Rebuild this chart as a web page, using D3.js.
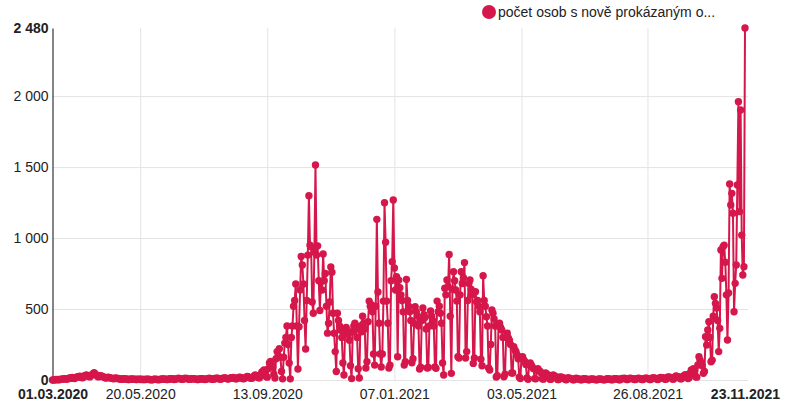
<!DOCTYPE html>
<html>
<head>
<meta charset="utf-8">
<script src="https://cdn.jsdelivr.net/npm/d3@7"></script>
<style>
  body { margin: 0; background: #fff; }
  text { font-family: "Liberation Sans", Arial, sans-serif; }
</style>
</head>
<body>
<div id="chart"></div>
<script>
// first day of the series, one value per day after it
const startDate = '2020-03-01';
const seriesName = 'počet osob s nově prokázaným o...';

// daily counts, one row per week (Sun..Sat)
const dailyCases = [
  0, 0, 1, 3, 2, 4, 2,
  3, 5, 6, 8, 10, 7, 6,
  8, 12, 15, 14, 18, 12, 10,
  15, 20, 24, 22, 26, 20, 16,
  18, 28, 32, 35, 30, 26, 22,
  30, 38, 45, 52, 40, 35, 26,
  22, 28, 30, 26, 24, 20, 16,
  14, 18, 20, 16, 15, 12, 10,
  9, 12, 14, 10, 11, 8, 6,
  5, 8, 9, 7, 8, 6, 4,
  4, 6, 7, 5, 6, 5, 3,
  3, 5, 6, 4, 5, 4, 3,
  3, 4, 6, 5, 4, 3, 2,
  2, 4, 5, 6, 4, 3, 2,
  3, 5, 7, 6, 8, 5, 3,
  4, 6, 9, 8, 10, 7, 4,
  5, 8, 10, 12, 9, 8, 5,
  6, 9, 12, 10, 11, 7, 5,
  5, 8, 10, 9, 8, 6, 4,
  4, 7, 9, 8, 9, 6, 4,
  5, 8, 10, 12, 9, 7, 5,
  6, 9, 12, 11, 13, 8, 6,
  7, 10, 14, 12, 15, 10, 7,
  8, 12, 16, 14, 18, 12, 8,
  9, 14, 18, 20, 16, 13, 9,
  10, 16, 22, 25, 20, 15, 12,
  12, 20, 28, 35, 30, 22, 15,
  15, 35, 55, 60, 70, 45, 25,
  20, 80, 120, 130, 110, 90, 40,
  14, 150, 200, 170, 220, 160, 60,
  8, 160, 260, 300, 380, 250, 120,
  8, 300, 380, 520, 560, 676, 380,
  77, 375, 634, 870, 810, 676, 420,
  218, 560, 880, 1298, 950, 940, 550,
  470, 900, 1515, 880, 945, 700, 490,
  692, 634, 888, 700, 750, 520, 330,
  400, 550, 796, 760, 470, 330, 200,
  60, 470, 420, 380, 350, 300, 120,
  35, 330, 370, 350, 320, 280, 100,
  10, 340, 380, 400, 360, 300, 80,
  14, 380, 340, 450, 400, 360, 85,
  129, 410, 556, 520, 530, 480, 183,
  105, 520, 1132, 620, 400, 183, 92,
  183, 556, 1249, 970, 556, 400, 85,
  105, 700, 833, 1268, 789, 634, 728,
  164, 704, 650, 600, 560, 480, 105,
  129, 709, 560, 520, 480, 420, 122,
  150, 400, 516, 480, 450, 380, 78,
  90, 420, 507, 460, 440, 360, 85,
  88, 380, 486, 450, 420, 380, 92,
  82, 556, 481, 520, 470, 400, 120,
  35, 646, 600, 705, 657, 885, 450,
  47, 640, 763, 700, 634, 556, 164,
  155, 600, 763, 680, 720, 827, 155,
  200, 560, 680, 705, 640, 600, 117,
  155, 622, 552, 560, 520, 480, 146,
  100, 735, 560, 520, 446, 380, 85,
  70, 250, 493, 470, 430, 380, 21,
  30, 380, 400, 370, 352, 300, 23,
  40, 305, 330, 296, 280, 250, 49,
  49, 235, 211, 200, 176, 150, 20,
  10, 160, 164, 141, 130, 110, 15,
  5, 105, 120, 105, 90, 80, 10,
  8, 70, 80, 65, 60, 50, 8,
  6, 45, 50, 40, 38, 30, 5,
  5, 30, 35, 28, 25, 20, 4,
  3, 20, 22, 18, 15, 12, 3,
  2, 14, 15, 12, 10, 8, 2,
  2, 10, 12, 9, 8, 6, 1,
  1, 8, 9, 7, 6, 5, 1,
  1, 6, 8, 6, 5, 4, 1,
  1, 5, 7, 6, 6, 4, 1,
  1, 6, 8, 9, 7, 5, 2,
  2, 8, 10, 9, 8, 6, 2,
  2, 9, 11, 10, 12, 8, 3,
  3, 10, 12, 11, 10, 8, 3,
  3, 9, 11, 12, 10, 7, 3,
  3, 10, 13, 12, 11, 9, 4,
  4, 12, 15, 14, 13, 10, 4,
  5, 14, 18, 16, 15, 12, 5,
  6, 18, 22, 20, 18, 14, 6,
  7, 22, 28, 25, 24, 18, 8,
  8, 25, 20, 35, 38, 30, 10,
  15, 50, 70, 60, 80, 65, 23,
  20, 106, 164, 140, 120, 100, 47,
  60, 305, 246, 352, 411, 300, 129,
  140, 450, 587, 540, 507, 420, 200,
  364, 916, 716, 940, 950, 830, 600,
  282, 613, 1381, 1233, 1315, 1175, 481,
  681, 810, 1374, 1961, 1186, 1902, 1021,
  740, 798, 2480
];

const xTickDates = ['2020-03-01', '2020-05-20', '2020-09-13', '2021-01-07', '2021-05-03', '2021-08-26', '2021-11-23'];
const yTickValues = [0, 500, 1000, 1500, 2000, 2480];

const color = '#d6174b';
const W = 800, H = 413;
const margin = { top: 28, right: 55, bottom: 33, left: 52.5 };

const parse = d3.utcParse('%Y-%m-%d');
const fmtDate = d3.utcFormat('%d.%m.%Y');
const fmtNum = d3.formatLocale({ decimal: ',', thousands: ' ', grouping: [3], currency: ['', ''] }).format(',');

const t0 = parse(startDate);
const data = dailyCases.map((v, i) => ({ date: d3.utcDay.offset(t0, i), value: v }));
const ticks = xTickDates.map(parse);

const svg = d3.select('#chart').append('svg').attr('width', W).attr('height', H);

const x = d3.scaleUtc()
  .domain([data[0].date, data[data.length - 1].date])
  .range([margin.left, W - margin.right]);
const y = d3.scaleLinear()
  .domain([0, d3.max(dailyCases)])
  .range([H - margin.bottom, margin.top]);

// horizontal grid
svg.append('g')
  .attr('transform', `translate(${margin.left},0)`)
  .call(d3.axisLeft(y).tickValues([0, 500, 1000, 1500, 2000]).tickSize(-(W - margin.right + 3 - margin.left)).tickFormat(''))
  .call(g => g.select('.domain').remove())
  .call(g => g.selectAll('line').attr('stroke', '#e3e3e3'));

// vertical grid (inner ticks only)
svg.append('g')
  .attr('transform', `translate(0,${H - margin.bottom})`)
  .call(d3.axisBottom(x).tickValues(ticks.slice(1, -1)).tickSize(-(H - margin.bottom - margin.top)).tickFormat(''))
  .call(g => g.select('.domain').remove())
  .call(g => g.selectAll('line').attr('stroke', '#e3e3e3'));

// y axis
const yAxis = svg.append('g')
  .attr('transform', `translate(${margin.left},0)`)
  .call(d3.axisLeft(y).tickValues(yTickValues).tickSize(0).tickPadding(4).tickFormat(fmtNum));
yAxis.select('.domain').attr('stroke', '#333').attr('stroke-width', 1.2);
yAxis.selectAll('text')
  .attr('font-size', 14)
  .attr('fill', '#222')
  .attr('font-weight', d => (d === 0 || d === 2480 ? 'bold' : 'normal'));

// x axis labels
const xAxis = svg.append('g')
  .attr('transform', `translate(0,${H - margin.bottom})`)
  .call(d3.axisBottom(x).tickValues(ticks).tickSize(0).tickPadding(9).tickFormat(fmtDate));
xAxis.select('.domain').remove();
xAxis.selectAll('text')
  .attr('font-size', 14)
  .attr('fill', '#222')
  .attr('font-weight', (d, i) => (i === 0 || i === ticks.length - 1 ? 'bold' : 'normal'));

// series
const line = d3.line().x(d => x(d.date)).y(d => y(d.value));
svg.append('path')
  .datum(data)
  .attr('d', line)
  .attr('fill', 'none')
  .attr('stroke', color)
  .attr('stroke-width', 2)
  .attr('stroke-linejoin', 'round');

svg.append('g')
  .selectAll('circle')
  .data(data)
  .join('circle')
  .attr('cx', d => x(d.date))
  .attr('cy', d => y(d.value))
  .attr('r', 3.7)
  .attr('fill', color);

// legend
const legend = svg.append('g').attr('transform', 'translate(489,12)');
legend.append('circle').attr('r', 7).attr('fill', color);
legend.append('text')
  .attr('x', 9)
  .attr('y', 5)
  .attr('font-size', 14)
  .attr('fill', '#222')
  .text(seriesName);
</script>
</body>
</html>
